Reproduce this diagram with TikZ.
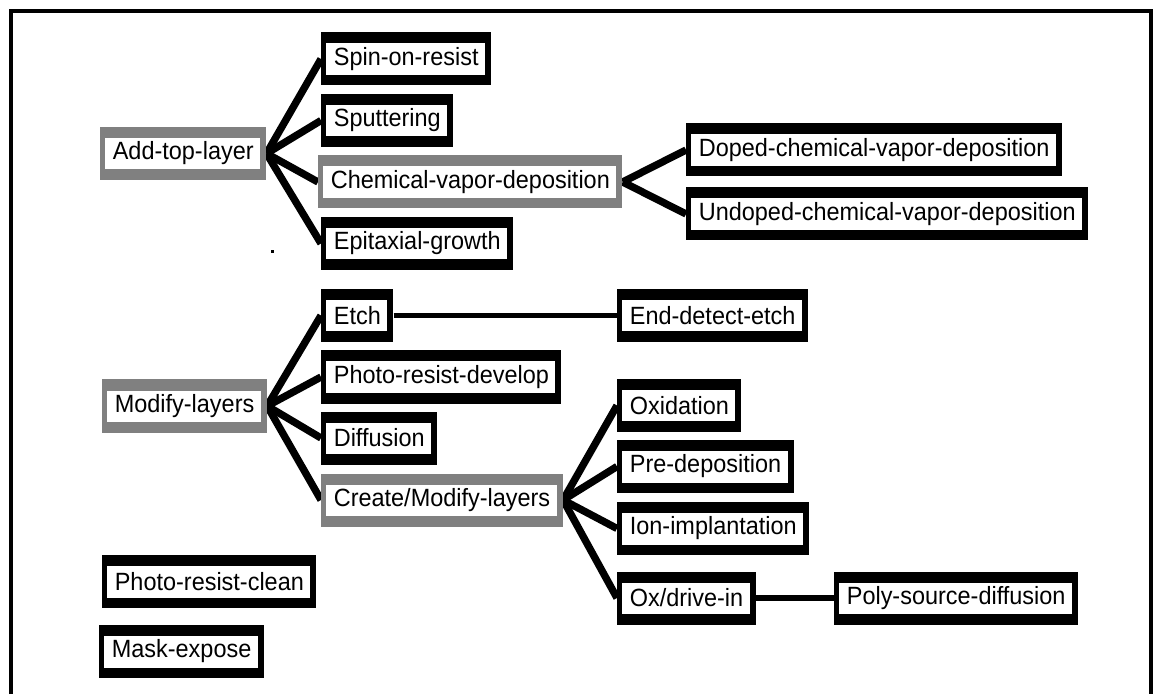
\documentclass[tikz,border=0pt]{standalone}
\usepackage{fontspec}
\setmainfont{Liberation Sans}[FakeStretch=0.94]
\usetikzlibrary{backgrounds}
\definecolor{boxgray}{HTML}{808080}
\tikzset{
  every node/.style={font=\fontsize{14.2}{17}\selectfont},
  task/.style={anchor=west,fill=black,minimum height=1.06cm,inner xsep=.25cm,inner ysep=0pt,
    path picture={\fill[white] ([shift={(.1,.21)}]path picture bounding box.south west)
      rectangle ([shift={(-.12,-.22)}]path picture bounding box.north east);}},
  group/.style={task,fill=boxgray},
  branch/.style={line width=4.2pt},
  link/.style={line width=2.8pt},
  frame/.style={line width=2.3pt}}

\begin{document}
\begin{tikzpicture}
\useasboundingbox (0,0) rectangle (23.3,13.88);
\draw[frame] (.22,0)--(.22,13.66)--(23.02,13.66)--(23.02,0);
\node[group] (addtop) at (2.00,10.81) {Add-top-layer};
\node[task] (spin) at (6.42,12.70) {Spin-on-resist};
\node[task] (sputter) at (6.42,11.47) {Sputtering};
\node[group] (cvd) at (6.36,10.24) {Chemical-vapor-deposition};
\node[task] (epi) at (6.42,9.01) {Epitaxial-growth};
\node[task] (doped) at (13.72,10.88) {Doped-chemical-vapor-deposition};
\node[task] (undoped) at (13.72,9.60) {Undoped-chemical-vapor-deposition};
\fill (5.41,8.81) rectangle (5.47,8.87);
\node[group] (modify) at (2.04,5.76) {Modify-layers};
\node[task] (etch) at (6.42,7.57) {Etch};
\node[task] (develop) at (6.42,6.34) {Photo-resist-develop};
\node[task] (diffuse) at (6.42,5.12) {Diffusion};
\node[group] (create) at (6.42,3.88) {Create/Modify-layers};
\node[task] (endetch) at (12.34,7.57) {End-detect-etch};
\node[task] (oxid) at (12.34,5.77) {Oxidation};
\node[task] (predep) at (12.34,4.55) {Pre-deposition};
\node[task] (implant) at (12.34,3.31) {Ion-implantation};
\node[task] (oxdrive) at (12.34,1.92) {Ox/drive-in};
\node[task] (polysrc) at (16.68,1.92) {Poly-source-diffusion};
\node[task] (clean) at (2.04,2.25) {Photo-resist-clean};
\node[task] (mask) at (1.98,0.85) {Mask-expose};
\begin{scope}[on background layer]
\foreach \c in {spin,sputter,cvd,epi} \draw[branch] (addtop.east)--(\c.west);
\foreach \c in {doped,undoped} \draw[branch] (cvd.east)--(\c.west);
\foreach \c in {etch,develop,diffuse,create} \draw[branch] (modify.east)--(\c.west);
\foreach \c in {oxid,predep,implant,oxdrive} \draw[branch] (create.east)--(\c.west);
\draw[link] (etch)--(endetch);
\draw[branch,line width=3.8pt] (oxdrive)--(polysrc);
\end{scope}
\end{tikzpicture}
\end{document}
